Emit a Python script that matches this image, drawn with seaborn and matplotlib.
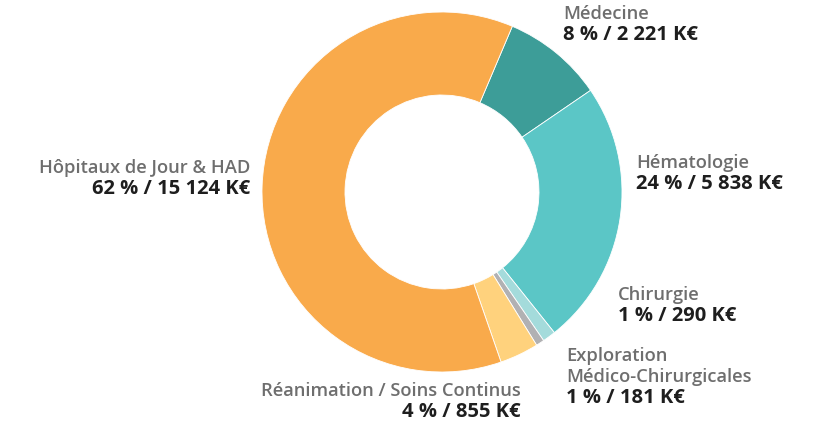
import numpy as np
import matplotlib
matplotlib.use("Agg")
import matplotlib.pyplot as plt
import seaborn as sns

# data (K€), clockwise from the top
names = ["Médecine", "Hématologie", "Chirurgie",
         "Exploration\nMédico-Chirurgicales", "Réanimation / Soins Continus",
         "Hôpitaux de Jour & HAD"]
values = [2221, 5838, 290, 181, 855, 15124]
pct_labels = ["8 %", "24 %", "1 %", "1 %", "4 %", "62 %"]
val_labels = ["2 221 K€", "5 838 K€", "290 K€", "181 K€", "855 K€", "15 124 K€"]
colors = ["#3d9d98", "#5bc6c6", "#a4dbdb", "#b1b1b3", "#ffd27d", "#f9aa4b"]

sns.set_theme(style="white")
plt.rcParams["font.family"] = ["Open Sans", "DejaVu Sans"]

W, H = 817, 428
fig = plt.figure(figsize=(W / 100, H / 100), dpi=100)
ax = fig.add_axes([0, 0, 1, 1])

cx, cy, r = 442, H - 192, 180
ax.pie(values, colors=colors, startangle=67, counterclock=False,
       center=(cx, cy), radius=r, frame=True,
       wedgeprops=dict(width=83, edgecolor="white", linewidth=0.6))
ax.set_xlim(0, W)
ax.set_ylim(0, H)
ax.set_aspect("equal")
ax.axis("off")

# label anchors (top of title line), alignment
pos = [(563, 5, "left"), (636, 154, "left"), (618, 286, "left"),
       (566, 347, "left"), (521, 382, "right"), (250, 159, "right")]
grey, dark = "#6e6e6e", "#1e1e1e"
lh = 21
for (x, y, ha), nm, p, v in zip(pos, names, pct_labels, val_labels):
    nlines = nm.count("\n") + 1
    ax.text(x, H - y, nm, ha=ha, va="top", fontsize=13.2, color=grey,
            fontweight="semibold", linespacing=1.25)
    ax.text(x, H - y - lh * nlines + 1, f"{p} / {v}", ha=ha, va="top",
            fontsize=14.5, color=dark, fontweight="bold")

plt.savefig("out.png", dpi=100)
